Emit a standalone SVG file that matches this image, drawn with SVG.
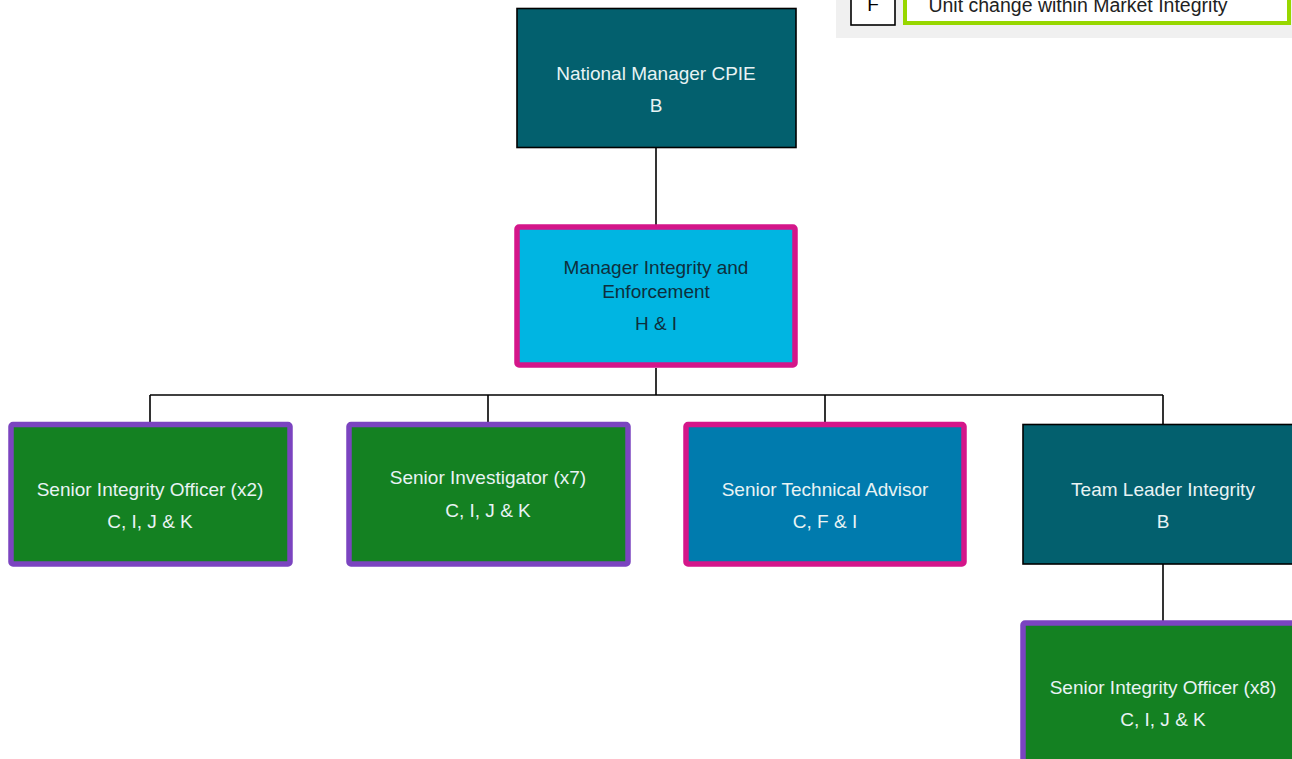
<svg xmlns="http://www.w3.org/2000/svg" width="1292" height="759" viewBox="0 0 1292 759">
<style>
text{font-family:"Liberation Sans",Arial,sans-serif;font-size:19px;text-anchor:middle}
.lt{fill:#E8F3F4}
.dk{fill:#0E2F3D}
.teal{fill:#03606E;stroke:#000;stroke-width:1.6}
.green{fill:#148122;stroke:#7B44C0;stroke-width:5.5}
.pinkc{fill:#00B5E2;stroke:#D4168A;stroke-width:5.5}
.pinkb{fill:#007BAE;stroke:#D4168A;stroke-width:5.5}
.conn{stroke:#000;stroke-width:1.6;fill:none}
</style>
<rect width="1292" height="759" fill="#fff"/>
<g id="legend">
<rect x="836" y="0" width="456" height="38" fill="#F0F0F0"/>
<rect x="851" y="-10" width="44" height="35" fill="#fff" stroke="#000" stroke-width="1.6"/>
<text x="873" y="11" style="font-size:19px" fill="#000">F</text>
<rect x="905" y="-10" width="384" height="33" fill="#fff" stroke="#97D700" stroke-width="4"/>
<text x="1078" y="12" style="font-size:19.5px" fill="#222">Unit change within Market Integrity</text>
</g>
<g id="connectors">
<path class="conn" d="M656 148V226"/>
<path class="conn" d="M656 368V395" stroke-width="2.2"/>
<path class="conn" d="M150 395H1163"/>
<path class="conn" d="M150 395V424M488 395V424M825 395V424M1163 395V424"/>
<path class="conn" d="M1163 564V622"/>
</g>
<g id="n1">
<rect class="teal" x="517" y="8.5" width="279" height="139"/>
<text class="lt" x="656" y="80">National Manager CPIE</text>
<text class="lt" x="656" y="112">B</text>
</g>
<g id="n2">
<rect class="pinkc" x="517" y="227" width="278" height="138" rx="2"/>
<text class="dk" x="656" y="274">Manager Integrity and</text>
<text class="dk" x="656" y="298">Enforcement</text>
<text class="dk" x="656" y="330">H &amp; I</text>
</g>
<g id="n3">
<rect class="green" x="11" y="424.5" width="279" height="139.5" rx="2"/>
<text class="lt" x="150" y="496">Senior Integrity Officer (x2)</text>
<text class="lt" x="150" y="528">C, I, J &amp; K</text>
</g>
<g id="n4">
<rect class="green" x="349" y="424.5" width="279" height="139.5" rx="2"/>
<text class="lt" x="488" y="484">Senior Investigator (x7)</text>
<text class="lt" x="488" y="517">C, I, J &amp; K</text>
</g>
<g id="n5">
<rect class="pinkb" x="686" y="424.5" width="278" height="139.5" rx="2"/>
<text class="lt" x="825" y="496">Senior Technical Advisor</text>
<text class="lt" x="825" y="528">C, F &amp; I</text>
</g>
<g id="n6">
<rect class="teal" x="1023" y="424.5" width="280" height="139.5"/>
<text class="lt" x="1163" y="496">Team Leader Integrity</text>
<text class="lt" x="1163" y="528">B</text>
</g>
<g id="n7">
<rect class="green" x="1023" y="623" width="282" height="145" rx="2"/>
<text class="lt" x="1163" y="694">Senior Integrity Officer (x8)</text>
<text class="lt" x="1163" y="726">C, I, J &amp; K</text>
</g>
</svg>
